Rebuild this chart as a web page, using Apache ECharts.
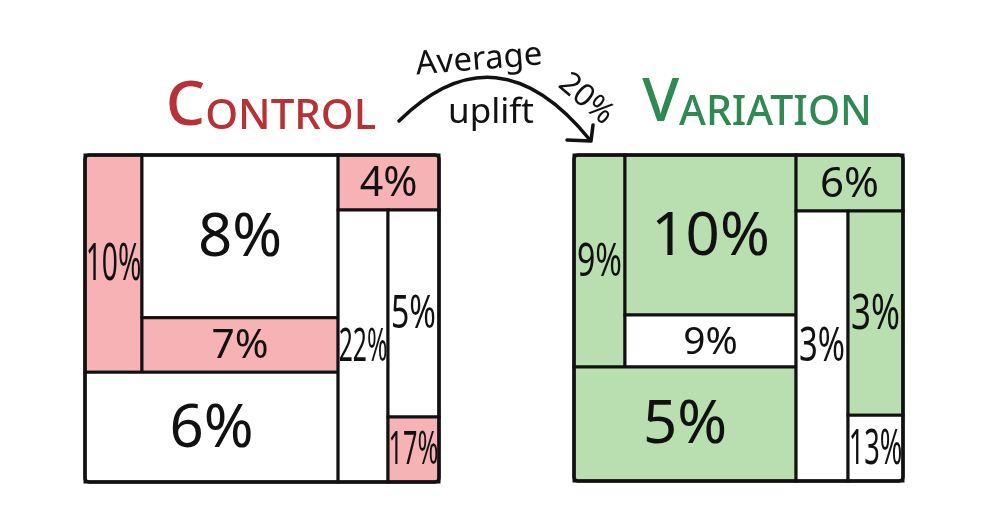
<!DOCTYPE html>
<html>
<head>
<meta charset="utf-8">
<script src="https://cdn.jsdelivr.net/npm/echarts@6/dist/echarts.min.js"></script>
<style>
  html, body { margin: 0; padding: 0; background: #fff; }
  #chart { width: 990px; height: 532px; }
</style>
</head>
<body>
<div id="chart"></div>
<script>
// tiles are [x0, x1, y0, y1] in panel units (0-100, y grows downwards)
const controlTiles = [
  [0, 16.1, 0, 66.4],
  [16.1, 71.5, 0, 49.8],
  [16.1, 71.5, 49.8, 66.4],
  [0, 71.5, 66.4, 100],
  [71.5, 100, 0, 16.8],
  [71.5, 85.6, 16.8, 100],
  [85.6, 100, 16.8, 80.1],
  [85.6, 100, 80.1, 100]
]
const controlLabels = ['10%', '8%', '7%', '6%', '4%', '22%', '5%', '17%']
const controlShaded = [1, 0, 1, 0, 1, 0, 0, 1]

const variationTiles = [
  [0, 15.5, 0, 65],
  [15.5, 67.5, 0, 49.1],
  [15.5, 67.5, 49.1, 65],
  [0, 67.5, 65, 100],
  [67.5, 100, 0, 17.2],
  [67.5, 83.3, 17.2, 100],
  [83.3, 100, 17.2, 79.8],
  [83.3, 100, 79.8, 100]
]
const variationLabels = ['9%', '10%', '9%', '5%', '6%', '3%', '3%', '13%']
const variationShaded = [1, 1, 0, 1, 1, 0, 1, 0]

const upliftText = ['Average', 'uplift', '20%']

const FONT = '"Noto Sans", "DejaVu Sans", sans-serif'
const measureCtx = document.createElement('canvas').getContext('2d')

function textWidth(text, size) {
  measureCtx.font = size + 'px ' + FONT
  return measureCtx.measureText(text).width
}

function tileRenderer(labels, shaded, fillColor) {
  return function (params, api) {
    let p0 = api.coord([api.value(0), api.value(2)])
    let p1 = api.coord([api.value(1), api.value(3)])
    let w = p1[0] - p0[0]
    let h = p1[1] - p0[1]
    let label = labels[params.dataIndex]
    // biggest font that fits, squeezed sideways like the hand lettering
    let fs = Math.min(h * 0.75, 60, w * 0.9)
    let tw = textWidth(label, fs)
    let sx = Math.min(1, (w - 6) / tw)
    if (sx < 0.55) sx = 0.55
    return {
      type: 'group',
      children: [
        {
          type: 'rect',
          shape: { x: p0[0], y: p0[1], width: w, height: h },
          style: {
            fill: shaded[params.dataIndex] ? fillColor : '#ffffff',
            stroke: '#111111',
            lineWidth: 3
          }
        },
        {
          type: 'text',
          x: p0[0] + w / 2,
          y: p0[1] + h / 2 + fs * 0.04,
          scaleX: sx,
          style: {
            text: label,
            x: 0,
            y: 0,
            align: 'center',
            verticalAlign: 'middle',
            fontSize: fs,
            fontFamily: FONT,
            fill: '#111111'
          }
        }
      ]
    }
  }
}

function renderFrame(params, api) {
  let p0 = api.coord([api.value(0), api.value(2)])
  let p1 = api.coord([api.value(1), api.value(3)])
  return {
    type: 'rect',
    shape: { x: p0[0], y: p0[1], width: p1[0] - p0[0], height: p1[1] - p0[1], r: 4 },
    style: { fill: 'none', stroke: '#111111', lineWidth: 3.5 }
  }
}

function axisPair(idx) {
  return {
    x: { gridIndex: idx, type: 'value', min: 0, max: 100, show: false },
    y: { gridIndex: idx, type: 'value', min: 0, max: 100, inverse: true, show: false }
  }
}

let chart = echarts.init(document.getElementById('chart'), null, { renderer: 'canvas' })

let option = {
  backgroundColor: '#ffffff',
  animation: false,
  grid: [
    { left: 85, top: 155, width: 354, height: 327 },
    { left: 574, top: 155, width: 329, height: 326 }
  ],
  xAxis: [axisPair(0).x, axisPair(1).x],
  yAxis: [axisPair(0).y, axisPair(1).y],
  series: [
    {
      type: 'custom',
      xAxisIndex: 0,
      yAxisIndex: 0,
      renderItem: tileRenderer(controlLabels, controlShaded, '#f6b2b4'),
      data: controlTiles
    },
    {
      type: 'custom',
      xAxisIndex: 0,
      yAxisIndex: 0,
      renderItem: renderFrame,
      data: [[0, 100, 0, 100]]
    },
    {
      type: 'custom',
      xAxisIndex: 1,
      yAxisIndex: 1,
      renderItem: tileRenderer(variationLabels, variationShaded, '#b9dfb1'),
      data: variationTiles
    },
    {
      type: 'custom',
      xAxisIndex: 1,
      yAxisIndex: 1,
      renderItem: renderFrame,
      data: [[0, 100, 0, 100]]
    }
  ],
  graphic: [
    // panel titles, small caps made by hand
    {
      type: 'text',
      x: 271,
      y: 138,
      style: {
        text: '{b|C}{s|ONTROL}',
        align: 'center',
        verticalAlign: 'bottom',
        rich: {
          b: { fontSize: 62, fontFamily: FONT, fontWeight: 500, fill: '#b73236', verticalAlign: 'bottom', lineHeight: 62 },
          s: { fontSize: 42, fontFamily: FONT, fontWeight: 500, fill: '#b73236', verticalAlign: 'bottom', lineHeight: 62 }
        }
      }
    },
    {
      type: 'text',
      x: 757,
      y: 134,
      style: {
        text: '{b|V}{s|ARIATION}',
        align: 'center',
        verticalAlign: 'bottom',
        rich: {
          b: { fontSize: 60, fontFamily: FONT, fontWeight: 500, fill: '#2e8a52', verticalAlign: 'bottom', lineHeight: 60 },
          s: { fontSize: 41, fontFamily: FONT, fontWeight: 500, fill: '#2e8a52', verticalAlign: 'bottom', lineHeight: 60 }
        }
      }
    },
    // uplift arrow
    {
      type: 'bezierCurve',
      shape: { x1: 399, y1: 121, x2: 590, y2: 140, cpx1: 497, cpy1: 25 },
      style: { stroke: '#111111', lineWidth: 3.5, fill: 'none', lineCap: 'round' }
    },
    {
      type: 'polyline',
      shape: { points: [[567, 140], [591, 141], [593, 125]] },
      style: { stroke: '#111111', lineWidth: 3.5, fill: 'none', lineCap: 'round', lineJoin: 'round' }
    },
    {
      type: 'text',
      x: 479,
      y: 60,
      rotation: 0.08,
      style: { text: upliftText[0], align: 'center', verticalAlign: 'middle', fontSize: 33, fontFamily: FONT, fill: '#111111' }
    },
    {
      type: 'text',
      x: 491,
      y: 113,
      style: { text: upliftText[1], align: 'center', verticalAlign: 'middle', fontSize: 35, fontFamily: FONT, fill: '#111111' }
    },
    {
      type: 'text',
      x: 586,
      y: 99,
      rotation: -0.7,
      style: { text: upliftText[2], align: 'center', verticalAlign: 'middle', fontSize: 31, fontFamily: FONT, fill: '#111111' }
    }
  ]
}

chart.setOption(option)
</script>
</body>
</html>
